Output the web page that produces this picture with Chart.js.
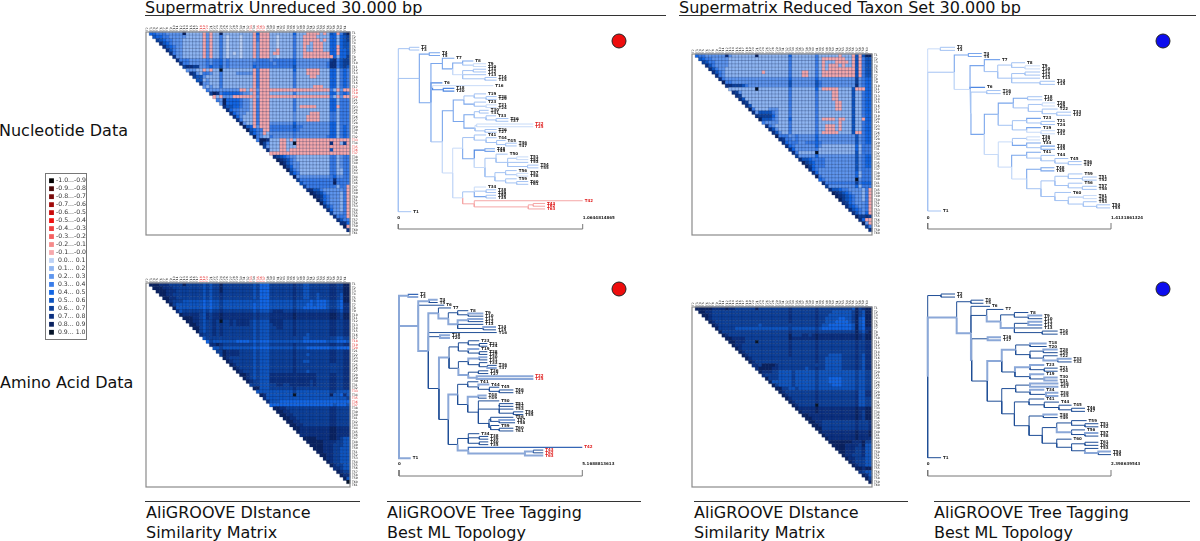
<!DOCTYPE html>
<html>
<head>
<meta charset="utf-8">
<title>AliGROOVE supermatrix</title>
<script src="https://cdn.jsdelivr.net/npm/chart.js@4/dist/chart.umd.min.js"></script>
<style>
    body { margin: 0; background: #fff; font-family: "DejaVu Sans", sans-serif; color: #111; }
    #page { position: relative; width: 1200px; height: 541px; overflow: hidden; }
    canvas { position: absolute; }
    .txt { position: absolute; white-space: nowrap; font-size: 16px; line-height: 20px; }
    .rule { position: absolute; height: 1px; background: #333; }
</style>
</head>
<body>
<div id="page"></div>
<script>
// legend bins, top to bottom
const legendLabels = ['-1.0...-0.9', '-0.9...-0.8', '-0.8...-0.7', '-0.7...-0.6', '-0.6...-0.5', '-0.5...-0.4', '-0.4...-0.3', '-0.3...-0.2', '-0.2...-0.1', '-0.1...-0.0',
    ' 0.0... 0.1', ' 0.1... 0.2', ' 0.2... 0.3', ' 0.3... 0.4', ' 0.4... 0.5', ' 0.5... 0.6', ' 0.6... 0.7', ' 0.7... 0.8', ' 0.8... 0.9', ' 0.9... 1.0'];
const legendColors = ['#000000', '#4a0a0a', '#7a0a0a', '#a00a0a', '#c80a0a', '#f01010', '#f04040', '#f56060', '#f58a8a', '#f6a8ac',
    '#bcd2f6', '#8fb6f2', '#5f96ee', '#3a7de9', '#1266e4', '#0e55c0', '#0c409a', '#0b3080', '#0a2260', '#061428'];

const taxaFull = ['T1','T2','T3','T4','T5','T6','T7','T8','T9','T10','T11','T12','T13','T14','T15','T16','T17','T18','T19','T20','T21','T22','T23','T24','T25','T26','T27','T28','T29','T30','T31','T32','T33','T34','T35','T36','T37','T38','T39','T40','T41','T42','T43','T44','T45','T46','T47','T48','T49','T50','T51','T52','T53','T54','T55','T56','T57','T58','T59','T60','T61'];
const taxaReduced = ['T1','T2','T3','T4','T5','T6','T7','T8','T9','T10','T11','T12','T13','T14','T15','T16','T17','T18','T19','T20','T21','T23','T24','T26','T27','T28','T29','T30','T31','T32','T33','T34','T35','T36','T37','T38','T39','T40','T41','T44','T45','T48','T49','T50','T51','T52','T53','T54','T55','T56','T57','T58','T59','T60'];
const redTaxaMatrix = ['T18', 'T19', 'T20', 'T33', 'T35', 'T36', 'T37'];
const redTaxaTree = ['T22', 'T25', 'T42', 'T43', 'T62', 'T63'];

// upper triangle rows, right aligned. digit d = bin d/10...(d+1)/10, n = -0.1...0
const nucFullRows = [
"4433322222 811111n2n1 1811111111 1n4nnn1111 1114111nnn n1n154n368",
"544332222 211111n2n1 1310111011 1n3nnn1101 111311nnnn 1111441456",
"65433222 111111n2n1 1310111011 1n3nnn1101 111311nnnn n1n1441456",
"7543222 111111n2n1 1310111011 1n2nnn1101 111311nn1n nn11441455",
"754322 111111n2n1 1310111011 1n2nnn1101 111311n11n nn1144n455",
"75322 111111n2n1 1310111011 1n2nnn11n1 111311n11n nn1144n445",
"7322 111111n2n1 1310101011 1n2nnn1nn1 111311nnnn nnnn44n445",
"722 111111n2n1 1310111011 1n2nnn1101 111311nnnn nnnnn41446",
"73 3322222323 3423222222 2233332333 3334222222 2222673566",
"7 3322222323 3423222222 2333333233 3334222222 2223773566",
"6776622343 3523222222 2433333333 3335222222 2223773565",
"22211n1n1 1911111111 1n3nnn1111 1114111nnn n111441343",
"76213321 1311112222 2n3nnn1111 1113111nnn n111441343",
"6552111 1311111111 1n3nnn1111 11131111nn 1111441343",
"551211 1311111111 1n3nnn1111 1113111111 1111441343",
"72211 1311111111 1n3nnn1111 1113111111 1111441343",
"2121 1311111111 1n3nnn1111 111311111n nn11441343",
"322 2222222nn1 nn2nnnnnnn nnnnnnnnnn nnnn31n2nn",
"68 7344444322 1n3nnn1111 1113111111 1111441343",
"n 1n222nnnnn nn2nnnnnnn nnnnnnnnnn nnnn31n2nn",
"3284444322 1n3nnn1111 1113111111 1111441333",
"284444322 1n3nnn1111 1113111111 1111441333",
"75544322 1n3nnn1111 11131nnnnn 111144n333",
"7433222 1n3nnn1111 1113111111 1111441333",
"743221 1n3nnn1111 11121111nn n111331333",
"74211 1n3nnn1111 1112111nnn n111331333",
"7311 1n3nnn1111 1112111nnn n111331333",
"821 1n3nnn2222 2224222222 2222441333",
"85 4n2nnn3333 3335332222 2222441343",
"8 5433nn3333 3334322222 2222441343",
"6432n12222 2223222222 2222441343",
"832113222 2223222222 2223441343",
"3887111n n1n1nnnnnn nnnnnnnnnn",
"863111n n119nnnnnn nnnn7nn16n",
"62111n n111nnnnnn nnnnnnnnnn",
"7111n n1nnnnnnnn nnnn5nnnnn",
"nnnn nnnnnnnnnn nnnnnnnnnn",
"765 4322111111 1111331233",
"87 6532111111 1111331233",
"8 7532211111 1111331233",
"8642211111 1111331233",
"853211111 1111331133",
"64311111 1111331133",
"8222222 2222342233",
"633333 3333373333",
"53333 3333383333",
"6333 333333133n",
"775 532222223n",
"87 653222213n",
"8 764322213n",
"864322213n",
"85322213n",
"7532213n",
"742213n",
"62223n",
"7333n",
"7533",
"774",
"8n",
"7"];

const aaFullRows = [
"8887776666 8666665656 6866666666 6564446666 6667665566 6666776688",
"888777666 6666665656 6866666666 6564446666 6667665566 6666776688",
"88877766 6666665656 6866666666 6564446666 6667665566 6666776688",
"8877666 6666665656 6766666666 6564446666 6667665566 5666776588",
"887766 6666665656 6766666666 6564446666 6667665566 5666776588",
"87666 5555554545 5655555555 5554445555 5556555545 4445665488",
"8655 5555554545 5655555555 5454445555 5556555445 4445665477",
"855 5555554545 5655555555 5454445555 5556554444 4445665477",
"75 6666665656 6766666666 6565556777 6667666666 6666776577",
"8 7777765767 7877777777 7676667777 7778777777 7777887688",
"8887765767 7877777777 7676667777 7778777777 7777887688",
"887765667 6966767777 6565557777 6667666666 6666776677",
"88765667 6766767777 6565556777 6667666666 6666776677",
"8865667 6766666666 6565556677 6667666666 6666776677",
"865667 6766666666 6565556666 6667666666 6666776677",
"76667 6766666666 6565556666 6667666566 6666776677",
"5666 6666666666 6565556666 6666665566 6666665566",
"465 5555554444 5454445555 5555554444 4445554445",
"77 8766666666 6565556666 6667666666 6666776677",
"5 5655555555 5454445555 5556555444 4444554444",
"6687777666 6565556666 6667666666 6666776677",
"687777666 6565556666 6667666566 6666776677",
"87666666 6565556666 6667666666 6666776677",
"8766666 6565556666 6667665566 6666776677",
"876666 6565556666 6667666666 6666666677",
"87666 6565556666 6667666666 6666666677",
"8766 6565556666 6667666566 6666666677",
"887 6565557777 7777777777 6666776677",
"87 6565557777 7777777777 6666776677",
"8 7665557777 7777777767 6666776677",
"6665556677 6677777767 6666776677",
"885556666 6667666666 6666776677",
"55555555 5556555555 5555665555",
"8755555 5559555555 5555855475",
"755555 5555555555 5555555556",
"75554 4444444444 4444444444",
"4444 4444444444 4444454445",
"887 7666666666 6666776666",
"88 7766666666 6666776666",
"8 8776666666 6666776666",
"8877666666 6666776666",
"887766666 6666776666",
"88776666 6666776666",
"8877777 7777887777",
"877777 7777887777",
"77777 7777887777",
"8888 7777887655",
"888 8877776655",
"88 8877766655",
"8 8877766555",
"8877766555",
"887766555",
"87766555",
"8766555",
"876655",
"77655",
"8766",
"877",
"85",
"9"];

const nucReducedRows = [
"433 2222227211 1111181111 1111141111 1113111111 n111n5n588",
"54 3322222111 1111111111 1111131111 11131nnnnn nn11n5n355",
"6 5332222111 1111111111 1111131111 11131n111n nnn1n5n355",
"7532222111 1111111111 1111131111 11131n1nnn 1n11n5n355",
"753221111 1111111111 1111131111 11131n1nnn nnnnn5n355",
"75321111 1111111n11 111113111n n1131nnnnn nnnnn5n355",
"7321111 1111111111 111113111n n1131nnnnn nnnnn5n355",
"732222 2222222222 2222242222 2224222222 2222262344",
"83322 2222222222 2222252222 2225322222 2222262344",
"7766 6532222222 2222252222 2225322222 2222272344",
"111 1111191111 1111131111 11141nnnnn 11115nnn44",
"76 2111111111 1111131111 11131111nn 1111511344",
"7 6111111111 1111131111 11131111nn 1111511344",
"7511111111 1111131111 11131111nn 1111511344",
"761111111 1111131111 111311111n n111511344",
"75111111 1111131111 111311111n n111511344",
"8311112 2211131111 111311111n n111511344",
"725555 3211131111 1113111111 1111511344",
"76666 4211131111 1113111111 1111511344",
"8555 3211141111 11131nnnn1 nn11511n44",
"322 2211131111 1113111111 n111511344",
"73 2111131111 111311nnn1 n111511344",
"7 5211131111 111311nnn1 n111511344",
"7521131111 11131nnnnn 11115nn344",
"833322322 2224222222 2222252344",
"76332322 2224222222 2222252344",
"7433322 3334322222 2222252344",
"743222 2224211111 1111141333",
"74222 2223111111 1111141333",
"7311 1119111111 1111151333",
"622 2224222222 2222252344",
"75 5433332222 2222252344",
"8 6543332222 2222252344",
"8643332222 2222252344",
"743222222 2222252333",
"74222222 2222241333",
"8322222 2222241333",
"432222 2222292333",
"73333 3333363444",
"6222 2222241333",
"755 433222213n",
"87 654322213n",
"8 765432213n",
"865432213n",
"76432223n",
"7543223n",
"754323n",
"75324n",
"86676",
"74nn",
"82n",
"63",
"7"];

const aaReducedRows = [
"888 8877778776 6666686666 6666676666 6667666666 6666586788",
"88 7766666666 6666666666 6666676666 6667666655 5555686588",
"8 8766666666 6666666666 6666676666 6667666555 5555686588",
"8766666666 6666666666 6666676666 6667665555 4455685488",
"876666666 6666666666 6666676666 6667665554 4445685488",
"87666666 6666665666 6666666666 6667655444 4444585488",
"8666665 5555555555 5555565555 5556544444 4444585477",
"866666 6666666666 6666676666 6667666666 6666686578",
"87666 6666666666 6666686667 7678777777 7777787688",
"8877 7766666666 6666687777 7778777777 7777787688",
"887 7766696666 6666676666 6667666666 6666676677",
"87 7666666666 6666676666 6667666666 6666676677",
"8 7666666666 6666676666 6667666666 6666676677",
"8766666666 6666676666 6667666666 6666676677",
"876666666 6666676666 6667666555 5666676577",
"87666666 6666666666 6667665555 5666676577",
"8766666 6666666666 6667665555 5666676577",
"776888 8766666666 6666665555 5666676577",
"78888 7766666666 5667665555 5666676577",
"8777 6655556555 5556555555 5555565566",
"766 6655556555 5556555555 5555565566",
"86 6655556555 5556555444 4555565566",
"8 5555556555 5556555444 4555565566",
"8655556555 5556555544 4555565566",
"886655655 5556555555 5555565566",
"87666666 6667666666 6666675577",
"8766666 6667666666 6666675577",
"876666 6667666666 6666675566",
"87666 6667666666 6666675566",
"8766 6669666666 6666675566",
"877 7778777777 7777787788",
"87 7778777777 7777787688",
"8 8777777777 7777787688",
"8877777777 7777787688",
"887766666 6666676667",
"88766666 6666676667",
"8866666 6666676667",
"877777 7777787778",
"87777 7777787778",
"8777 7777787777",
"888 8888777866",
"88 8877776855",
"8 8877766755",
"8877766755",
"877666755",
"87766655",
"8766655",
"876655",
"88788",
"7655",
"875",
"86",
"8"];

// trees: name@distance (per mille of the scale bar) + branch class
const nucFullTree = "((T2@114b,T3@114b)@60b,((T4@226c,T5@226c)@168c,((T7@304c,((T8@407c,(T9@476a,T10@476a)@407b)@349c,((T11@476b,T12@476b)@407b,T13@476b,(T14@533b,T15@533b)@470b)@349a)@295c)@239c,T6@239d,(T16@515a,(T18@304d,T20@304d)@244d)@186c,((((T19@476b,(T28@533b,T29@533b)@476b)@412b,(T23@476b,(T21@533a,T24@533a)@476b)@412c)@356c,(((T30@490b,T31@490b)@440b,(T33@530b,(T36@597b,T37@597b)@530b)@476b)@412c,((T22@732a,T25@732a)@425a,(T26@533b,T27@533b)@470b)@416c)@356c)@298c,(((T41@476b,(T44@533b,(T45@582b,(T46@642b,T47@642b)@582b)@533b)@476b)@412b,((T48@524c,T49@524c)@470d,((T50@593b,((T51@705a,T52@705a)@642b,T53@705b,(T54@760b,T55@760b)@701b)@593b)@530b,((T56@642b,(T57@705a,T58@705a)@642b)@582b,(T59@642b,(T60@705b,T61@705b)@642b)@582b)@524b)@470a)@412c)@349a,((T34@476a,(T38@530b,T39@530b)@476b,(T40@530b,T35@530b)@476c)@412b,(T42@1000r,((T43@796r,T62@796r)@732r,T63@796r)@705r)@412r)@349a)@295a)@239b)@177c)@114b,T1@70b)@0b";
const aaFullTree = "((T2@105v,T3@105t)@51t,((T4@211t,T5@211u)@164t,T6@247u,((T7@284u,((T8@378u,(T9@460t,T10@460u)@378u)@320u,((T11@460t,T12@460u)@378t,T13@460u,(T14@529t,T15@529u)@460u)@320t)@269t)@215t,T16@533u,(T18@278t,T20@278t)@224u,((((T23@438u,(T21@482u,T24@482u)@438u)@378u,(T19@438t,(T28@482u,T29@482u)@438u)@378u)@324u,(((T30@482t,T31@482u)@438t,(T33@482u,(T36@533u,T37@533t)@482u)@438u)@378u,((T26@487u,T27@487u)@433u,(T22@733t,T25@733t)@424t)@378t)@324u)@273t,(((T41@433u,(T44@493t,(T45@547u,(T46@624u,T47@624u)@547u)@493u)@433u)@375u,((T48@478t,T49@478u)@433t,(T50@547u,((T51@624u,T52@624u)@547u,T53@624u,(T54@678u,T55@678u)@624u)@547u,((T56@624u,(T57@633t,T58@633u)@547u)@500u,(T59@547u,(T60@624u,T61@624u)@547u)@500u)@491u)@433u)@375u)@320t,((T34@438u,(T38@487u,T39@487u)@438u,(T40@487u,T35@487u)@438u)@378u,(T42@1000v,((T43@787u,T62@787u)@733t,T63@787t)@687t)@378t)@320u)@269u)@218u)@160t)@105t,T1@64t)@0t";
const nucReducedTree = "((T2@149b,T3@149b)@69a,((T4@295c,T5@295c)@222c,((T7@395c,((T8@531b,(T9@613a,T10@613a)@531b)@458b,((T11@613b,T12@613b)@531b,T13@613b,(T14@694b,T15@694b)@613b)@458b)@382b)@309c,T6@313d,((T16@398b,T17@398b)@322b,((((T18@625b,T20@625b)@545c,((T28@694a,T29@694a)@625b,(T22@709b,(T33@782b,T32@782b)@704b)@625b)@549b)@467c,((T23@618c,(T21@694b,T24@694b)@618b)@540b,(T19@618c,(T30@694a,T31@694a)@618a)@540b)@462b)@385c,(((T36@613a,T37@613a)@540b,(T34@618c,(T38@694c,T35@694c)@618b)@540c)@462a,((T41@618c,(T44@694b,(T45@767b,(T46@840b,T47@840b)@767b)@694b)@618b)@540c,((T48@691c,T49@691c)@618c,(((T59@844b,(T51@922b,T52@922b)@844b)@767b,(T56@844b,(T57@922b,T58@922b)@844b)@767b)@694b,(T60@782b,((T61@922a,T62@922a)@849b,(T53@922b,(T54@995b,T55@995b)@922b)@849b)@767b)@694b)@618b)@540a)@458a)@385a)@309c)@236b)@231a)@145b,T1@73b)@0b";
const aaReducedTree = "((T2@149u,T3@149u)@73u,((T4@304u,T5@304u)@236u,(T6@340u,(T7@413u,((T8@549u,(T9@625t,T10@625u)@549u)@473u,((T11@625t,T12@625t)@549u,T13@625u,(T14@709u,T15@709u)@625u)@473t)@398t)@322u,((T16@400t,T17@400t)@327u,((((T18@649t,T20@649u)@558u,((T28@709t,T29@709u)@631u,(T22@709u,(T33@785t,T32@785u)@709t)@631u)@558u)@480t,((T23@636t,(T21@709u,T24@709u)@636u)@558t,(T19@636t,(T30@709t,T31@709t)@636u)@558u)@476u)@404t,(((T36@713t,T37@713t)@558u,(T34@636t,(T38@713t,T35@713t)@645u)@558u)@480u,((T41@636u,(T44@716u,(T45@785u,(T46@858u,T47@858u)@785u)@716u)@636u)@553u,((T48@709t,T49@709u)@631u,(((T59@867u,(T51@931u,T52@931u)@858u)@785u,(T56@858u,(T57@931t,T58@931u)@858u)@785t)@704u,(T60@785u,((T61@931u,T62@931u)@858u,(T53@931u,(T54@1000t,T55@1000u)@931t)@858u)@785u)@704u)@625u)@553u)@473u)@404u)@325u)@240t)@236t)@158t,T1@73u)@0u";

const nucStyles = { a: ['#c8dbf8', 1], b: ['#a4c3f3', 1], c: ['#7aa6ec', 1.1], d: ['#4f88e2', 1.2], r: ['#f5a6a6', 1] };
const aaStyles = { t: ['#8ba8d8', 2], v: ['#3566b5', 1.2], u: ['#1f4e96', 1] };

const addDiv = (cls, left, top, text, width) => {
    const el = document.createElement('div');
    el.className = cls;
    el.style.left = left + 'px';
    el.style.top = top + 'px';
    if (text) el.textContent = text;
    if (width) el.style.width = width + 'px';
    document.getElementById('page').appendChild(el);
};

const addCanvas = (left, top, width, height) => {
    const c = document.createElement('canvas');
    c.width = width;
    c.height = height;
    c.style.left = left + 'px';
    c.style.top = top + 'px';
    c.style.width = width + 'px';
    c.style.height = height + 'px';
    document.getElementById('page').appendChild(c);
    return c;
};

const drawMatrix = (frame, taxa, rows, redTaxa) => {
    const [x0, y0, x1, y1] = frame;
    const canvas = addCanvas(x0 - 1, y0 - 10, x1 - x0 + 14, y1 - y0 + 12);
    const n = taxa.length;
    const points = [];
    const colors = [];
    rows.forEach((row, i) => {
        const cells = row.replace(/ /g, '');
        const start = n - cells.length;
        [...cells].forEach((c, k) => {
            const bin = c === 'n' ? 9 : 10 + Number(c);
            points.push({ x: taxa[start + k], y: taxa[i] });
            colors.push(legendColors[bin]);
        });
    });
    const tickColor = (ctx) => redTaxa.includes(taxa[ctx.index]) ? '#e02020' : '#111';
    new Chart(canvas, {
        type: 'scatter',
        data: {
            datasets: [{
                data: points,
                pointStyle: 'rect',
                // a little over one cell so no white shows through between neighbours
                pointRadius: (x1 - x0) / n / Math.SQRT2 * 1.12,
                pointBackgroundColor: colors,
                pointBorderColor: 'rgba(20,40,90,0.45)',
                pointBorderWidth: 0.5
            }]
        },
        options: {
            responsive: false,
            animation: false,
            devicePixelRatio: 1,
            layout: { autoPadding: false, padding: { left: 1, bottom: 2, top: 0, right: 0 } },
            plugins: { legend: { display: false }, tooltip: { enabled: false } },
            scales: {
                x: {
                    type: 'category', labels: taxa, position: 'top', offset: true,
                    grid: { display: false, drawTicks: false }, border: { display: false },
                    afterFit: (s) => { s.height = 10; s.paddingLeft = 0; s.paddingRight = 0; },
                    ticks: { autoSkip: false, maxRotation: 90, minRotation: 90, padding: 1, font: { size: 3, family: 'DejaVu Sans' }, color: tickColor }
                },
                y: {
                    type: 'category', labels: taxa, position: 'right', offset: true,
                    grid: { display: false, drawTicks: false }, border: { display: false },
                    afterFit: (s) => { s.width = 13; s.paddingTop = 0; s.paddingBottom = 0; },
                    ticks: { autoSkip: false, padding: 2, font: { size: 3, family: 'DejaVu Sans' }, color: tickColor }
                }
            }
        },
        plugins: [{
            id: 'frame',
            afterDraw: (chart) => {
                const a = chart.chartArea;
                chart.ctx.strokeStyle = '#8a8a8a';
                chart.ctx.lineWidth = 1.2;
                chart.ctx.strokeRect(a.left, a.top, a.width, a.height);
            }
        }]
    });
};

// reads the nested tree text into nodes
const parseTree = (text) => {
    let pos = 0;
    const readTail = (node) => {
        const m = /^@(\d+)([a-z])/.exec(text.slice(pos));
        pos += m[0].length;
        node.x = Number(m[1]);
        node.style = m[2];
        return node;
    };
    const readNode = () => {
        if (text[pos] === '(') {
            pos++;
            const kids = [readNode()];
            while (text[pos] === ',') {
                pos++;
                kids.push(readNode());
            }
            pos++;
            return readTail({ kids });
        }
        const m = /^T\d+/.exec(text.slice(pos));
        pos += m[0].length;
        return readTail({ name: m[0] });
    };
    return readNode();
};

const drawTree = (box, text, styles, bar, scaleText, dotColor) => {
    const root = parseTree(text);
    const leaves = [];
    const place = (node) => {
        if (node.kids) {
            node.kids.forEach(place);
            node.y = (node.kids[0].y + node.kids[node.kids.length - 1].y) / 2;
        } else {
            node.y = leaves.length;
            leaves.push(node);
        }
    };
    place(root);

    const [left, top, right, bottom] = box;
    const { x0, x1, y0, y1, labelY, barTop, barBottom, dotX, dotY } = bar;
    const rowPx = (y1 - y0) / (leaves.length - 1);
    const rowOf = (px) => (px - y0) / rowPx;
    const distOf = (px) => (px - x0) / (x1 - x0) * 1000;

    const paths = {};
    Object.keys(styles).forEach((k) => { paths[k] = []; });
    const walk = (node) => {
        (node.kids || []).forEach((kid) => {
            paths[kid.style].push({ x: node.x, y: node.y }, { x: node.x, y: kid.y }, { x: kid.x, y: kid.y }, { x: NaN, y: NaN });
            walk(kid);
        });
    };
    walk(root);

    const datasets = Object.keys(styles).map((k) => ({
        data: paths[k],
        showLine: true,
        spanGaps: false,
        borderColor: styles[k][0],
        borderWidth: styles[k][1],
        pointRadius: 0
    }));
    datasets.push({
        data: [{ x: 0, y: rowOf(barTop) }, { x: 0, y: rowOf(barBottom) }, { x: 1000, y: rowOf(barBottom) }, { x: 1000, y: rowOf(barTop) }],
        showLine: true,
        borderColor: '#777',
        borderWidth: 1,
        pointRadius: 0
    });
    datasets.push({
        data: [{ x: distOf(dotX), y: rowOf(dotY) }],
        pointRadius: 7,
        pointBackgroundColor: dotColor,
        pointBorderColor: '#222',
        pointBorderWidth: 1
    });

    new Chart(addCanvas(left, top, right - left, bottom - top), {
        type: 'scatter',
        data: { datasets },
        options: {
            responsive: false,
            animation: false,
            devicePixelRatio: 1,
            layout: { autoPadding: false, padding: 0 },
            plugins: { legend: { display: false }, tooltip: { enabled: false } },
            scales: {
                x: { type: 'linear', display: false, min: distOf(left), max: distOf(right) },
                y: { type: 'linear', display: false, reverse: true, min: rowOf(top), max: rowOf(bottom) }
            }
        },
        plugins: [{
            id: 'tipLabels',
            afterDraw: (chart) => {
                const ctx = chart.ctx;
                const sx = chart.scales.x;
                const sy = chart.scales.y;
                ctx.textBaseline = 'middle';
                ctx.textAlign = 'left';
                ctx.font = 'bold 4px "DejaVu Sans"';
                leaves.forEach((leaf) => {
                    ctx.fillStyle = redTaxaTree.includes(leaf.name) && text !== nucReducedTree && text !== aaReducedTree ? '#e02020' : '#222';
                    ctx.fillText(leaf.name, sx.getPixelForValue(leaf.x) + 2, sy.getPixelForValue(leaf.y));
                });
                ctx.fillStyle = '#222';
                ctx.fillText('0', sx.getPixelForValue(0) - 1, sy.getPixelForValue(rowOf(labelY)));
                ctx.fillText(scaleText, sx.getPixelForValue(1000), sy.getPixelForValue(rowOf(labelY)));
            }
        }]
    });
};

const drawLegend = () => {
    const canvas = addCanvas(45, 173, 42, 167);
    new Chart(canvas, {
        type: 'scatter',
        data: {
            datasets: [{
                data: legendLabels.map((label) => ({ x: 0, y: label })),
                pointStyle: 'rect',
                pointRadius: 3.4,
                pointBackgroundColor: legendColors,
                pointBorderWidth: 0
            }]
        },
        options: {
            responsive: false,
            animation: false,
            devicePixelRatio: 1,
            layout: { autoPadding: false, padding: { top: 3.5, bottom: 3.5, left: 2 } },
            plugins: { legend: { display: false }, tooltip: { enabled: false } },
            scales: {
                x: { type: 'linear', display: false, min: -1, max: 1 },
                y: {
                    type: 'category', labels: legendLabels, position: 'right', offset: true,
                    grid: { display: false, drawTicks: false }, border: { display: false },
                    afterFit: (s) => { s.width = 31; },
                    ticks: { autoSkip: false, padding: 0, font: { size: 6.2, family: 'DejaVu Sans' }, color: '#333' }
                }
            }
        },
        plugins: [{
            id: 'box',
            afterDraw: (chart) => {
                chart.ctx.strokeStyle = '#777';
                chart.ctx.lineWidth = 1;
                chart.ctx.strokeRect(0.5, 0.5, chart.width - 1, chart.height - 1);
            }
        }]
    });
};

addDiv('txt', 145, -2, 'Supermatrix Unreduced 30.000 bp');
addDiv('txt', 679, -2, 'Supermatrix Reduced Taxon Set 30.000 bp');
addDiv('rule', 145, 15, '', 521);
addDiv('rule', 679, 15, '', 517);
addDiv('txt', -1, 121, 'Nucleotide Data');
addDiv('txt', 0, 373, 'Amino Acid Data');

[[145, 'AliGROOVE DIstance', 'Similarity Matrix', 215, 146],
 [387, 'AliGROOVE Tree Tagging', 'Best ML Topology', 254, 387],
 [694, 'AliGROOVE DIstance', 'Similarity Matrix', 214, 694],
 [934, 'AliGROOVE Tree Tagging', 'Best ML Topology', 256, 934]].forEach(([x, a, b, w, tx]) => {
    addDiv('rule', x, 501, '', w);
    addDiv('txt', tx, 503, a);
    addDiv('txt', tx, 523, b);
});

drawLegend();
drawMatrix([146, 32, 350, 235], taxaFull, nucFullRows, redTaxaMatrix);
drawMatrix([146, 283, 350, 487], taxaFull, aaFullRows, redTaxaMatrix);
drawMatrix([692, 54, 872, 235], taxaReduced, nucReducedRows, []);
drawMatrix([692, 307, 872, 487], taxaReduced, aaReducedRows, []);

drawTree([385, 30, 640, 240], nucFullTree, nucStyles,
    { x0: 398.3, x1: 582.7, y0: 47.3, y1: 211.7, labelY: 218, barTop: 224, barBottom: 229, dotX: 619, dotY: 41 }, '1.0644814865', '#ee0d0d');
drawTree([385, 275, 640, 485], aaFullTree, aaStyles,
    { x0: 399, x1: 582.3, y0: 294.3, y1: 458.3, labelY: 464.3, barTop: 470, barBottom: 476, dotX: 619, dotY: 289 }, '5.1688813613', '#ee0d0d');
drawTree([915, 30, 1180, 240], nucReducedTree, nucStyles,
    { x0: 927.7, x1: 1111, y0: 47.3, y1: 211, labelY: 218, barTop: 223, barBottom: 229, dotX: 1163, dotY: 41 }, '1.4131861324', '#0d0dee');
drawTree([915, 275, 1180, 485], aaReducedTree, aaStyles,
    { x0: 927.7, x1: 1111, y0: 294, y1: 457.7, labelY: 464.3, barTop: 470, barBottom: 476, dotX: 1163, dotY: 289 }, '2.398639543', '#0d0dee');
</script>
</body>
</html>
